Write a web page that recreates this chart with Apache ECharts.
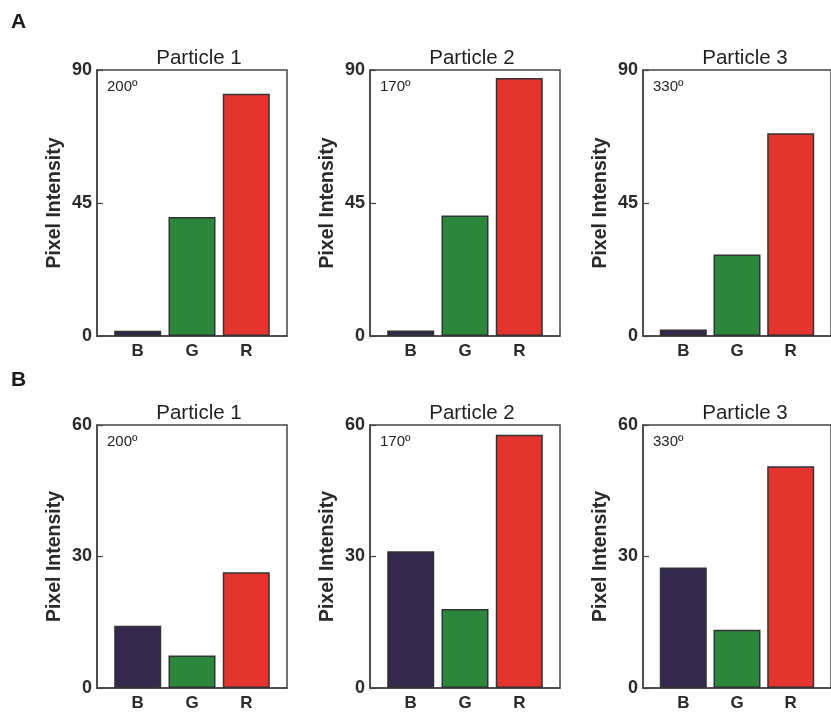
<!DOCTYPE html>
<html>
<head>
<meta charset="utf-8">
<script src="https://cdn.jsdelivr.net/npm/echarts@6/dist/echarts.min.js"></script>
<style>
html,body{margin:0;padding:0;background:#fff;}
#chart{width:831px;height:712px;}
</style>
</head>
<body>
<div id="chart"></div>
<script>
// ---- data ----
const categories = ['B', 'G', 'R'];
const particleTitles = ['Particle 1', 'Particle 2', 'Particle 3'];
const angleLabels = ['200º', '170º', '330º'];
const panelLetters = ['A', 'B'];

// Row A (y axis 0–90)
const rowA_particle1 = [1.8, 40.3, 82];
const rowA_particle2 = [1.9, 40.8, 87.3];
const rowA_particle3 = [2.2, 27.6, 68.6];
const rowA_yTicks = [0, 45, 90];

// Row B (y axis 0–60)
const rowB_particle1 = [14.2, 7.4, 26.4];
const rowB_particle2 = [31.2, 18.0, 57.8];
const rowB_particle3 = [27.5, 13.3, 50.6];
const rowB_yTicks = [0, 30, 60];

const rows = [
  { values: [rowA_particle1, rowA_particle2, rowA_particle3], ticks: rowA_yTicks },
  { values: [rowB_particle1, rowB_particle2, rowB_particle3], ticks: rowB_yTicks }
];

// ---- styles / layout ----
const barColors = ['#35284e', '#2a873c', '#e3342e'];
const FONT = '"Liberation Sans", Arial, Helvetica, sans-serif';
const colLefts = [97, 370, 643];
const rowTops = [70, 425];
const rowHeights = [266, 267];
const gridWidth = 190;

const grids = [], xAxes = [], yAxes = [], series = [], titles = [], graphics = [];

rows.forEach((row, r) => {
  graphics.push({
    type: 'text', left: 11, top: r === 0 ? 12 : 370,
    style: { text: panelLetters[r], font: 'bold 21px ' + FONT, fill: '#1a1a1a' }
  });
  row.values.forEach((vals, c) => {
    const idx = r * 3 + c;
    const left = colLefts[c], top = rowTops[r], h = rowHeights[r];
    grids.push({
      left: left, top: top, width: gridWidth, height: h,
      show: true, borderColor: '#444', borderWidth: 1.5, backgroundColor: 'transparent'
    });
    xAxes.push({
      gridIndex: idx, type: 'value', min: -0.75, max: 2.75,
      splitLine: { show: false },
      axisTick: { show: false },
      axisLine: { show: true, onZero: false, lineStyle: { color: '#444', width: 1.5 } },
      axisLabel: {
        customValues: [0, 1, 2],
        formatter: v => categories[Math.round(v)],
        fontFamily: FONT, fontWeight: 'bold', fontSize: 17, color: '#2a2a2a', margin: 7
      }
    });
    const tk = row.ticks;
    yAxes.push({
      gridIndex: idx, type: 'value', min: tk[0], max: tk[tk.length - 1], interval: tk[1] - tk[0],
      splitLine: { show: false },
      axisLine: { show: true, onZero: false, lineStyle: { color: '#444', width: 1.5 } },
      axisTick: { show: true, inside: true, length: 6, lineStyle: { color: '#444', width: 1.2 } },
      axisLabel: { fontFamily: FONT, fontWeight: 'bold', fontSize: 18, color: '#2a2a2a', margin: 5 },
      name: 'Pixel Intensity', nameLocation: 'middle', nameGap: 32,
      nameTextStyle: { fontFamily: FONT, fontWeight: 'bold', fontSize: 19.5, color: '#2a2a2a' }
    });
    series.push({
      type: 'bar', xAxisIndex: idx, yAxisIndex: idx, barWidth: 47,
      itemStyle: { borderColor: '#333', borderWidth: 1.5 },
      data: vals.map((v, i) => ({ value: [i, v], itemStyle: { color: barColors[i] } })),
      silent: true, animation: false
    });
    titles.push({
      text: particleTitles[c], left: left + gridWidth / 2 + 2, top: top - 27, textAlign: 'center',
      textStyle: { fontFamily: FONT, fontWeight: 'normal', fontSize: 20.5, color: '#1f1f1f' }
    });
    graphics.push({
      type: 'text', left: left + 10, top: top + 9,
      style: { text: angleLabels[c], font: '15px ' + FONT, fill: '#1f1f1f' }
    });
  });
});

const chart = echarts.init(document.getElementById('chart'), null, { renderer: 'canvas' });
chart.setOption({
  backgroundColor: '#ffffff',
  animation: false,
  title: titles,
  grid: grids,
  xAxis: xAxes,
  yAxis: yAxes,
  series: series,
  graphic: graphics
});
</script>
</body>
</html>
